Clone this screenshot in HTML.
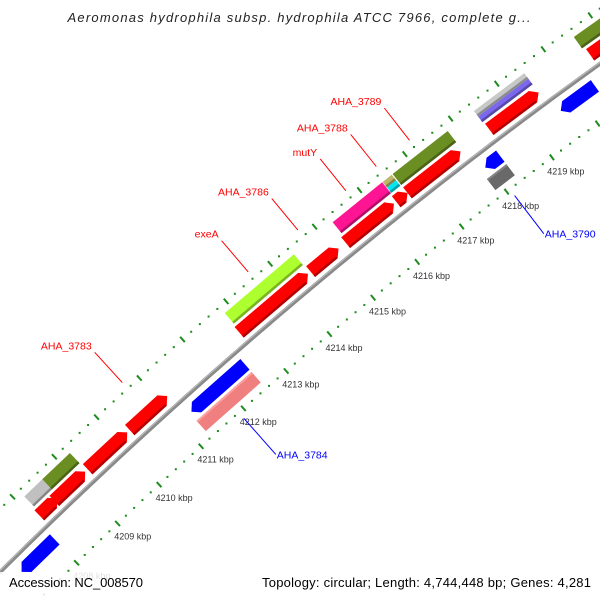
<!DOCTYPE html>
<html><head><meta charset="utf-8">
<style>
html,body{margin:0;padding:0;background:#fff;width:600px;height:600px;overflow:hidden}
svg{display:block;font-family:"Liberation Sans",sans-serif}
</style></head>
<body>
<svg id="map" width="600" height="600" viewBox="0 0 600 600" xmlns="http://www.w3.org/2000/svg" overflow="hidden">
<rect x="0" y="0" width="600" height="600" fill="#fff"/>
<g id="ticks"></g>
<g id="backbone"></g>
<g id="features"></g>
<g id="labels"></g>
<text x="299" y="22" text-anchor="middle" font-size="13" font-style="italic" fill="#222" textLength="463">Aeromonas hydrophila subsp. hydrophila ATCC 7966, complete g...</text>
<rect x="0" y="572" width="600" height="28" fill="#fff" opacity="0.85"/>
<text x="9" y="587" font-size="13" fill="#000" textLength="134">Accession: NC_008570</text>
<text x="591" y="587" font-size="13" fill="#000" text-anchor="end" textLength="329">Topology: circular; Length: 4,744,448 bp; Genes: 4,281</text>
</svg>
<script>
// ---- data (kbp) ----
const featStart = [4207.20, 4208.11, 4208.47, 4209.27, 4210.27, 4208.15, 4208.58, 4212.85, 4212.82, 4214.45, 4215.29, 4215.24, 4216.37, 4216.40, 4216.40, 4216.62, 4216.62, 4218.42, 4218.40, 4218.40, 4220.55, 4220.60, 4219.61, 4217.96, 4217.86, 4211.28, 4211.24];
const featEnd   = [4208.01, 4208.54, 4209.21, 4210.21, 4211.15, 4208.58, 4209.24, 4214.42, 4214.39, 4215.08, 4216.39, 4216.32, 4216.62, 4216.60, 4216.60, 4217.83, 4217.79, 4219.49, 4219.49, 4219.49, 4221.60, 4221.60, 4220.35, 4218.29, 4218.29, 4212.53, 4212.53];
const featColor = ["#0000ff","#ff0000","#ff0000","#ff0000","#ff0000","#c0c0c0","#6b8e23","#adff2f","#ff0000","#ff0000","#ff1493","#ff0000","#ff0000","#bdb76b","#00e5ee","#6b8e23","#ff0000","#ff0000","#c8c8c8","#7b68ee","#6b8e23","#ff0000","#0000ff","#0000ff","#696969","#0000ff","#f08080"];
const featRing  = ["r1","f1","f1","f1","f1","f2","f2","f2","f1","f1","f2","f1","f1","f2o","f2i","f2","f1","f1","f2o","f2i","f2","f1","r1","r1","r2","r1","r2"];
const tickKbp   = [4208, 4209, 4210, 4211, 4212, 4213, 4214, 4215, 4216, 4217, 4218, 4219, 4220];
const tickText  = ["4208 kbp","4209 kbp","4210 kbp","4211 kbp","4212 kbp","4213 kbp","4214 kbp","4215 kbp","4216 kbp","4217 kbp","4218 kbp","4219 kbp","4220 kbp"];
const labelText = ["AHA_3783","exeA","AHA_3786","mutY","AHA_3788","AHA_3789","AHA_3784","AHA_3790"];
const labelKbp  = [4210.73, 4213.62, 4214.74, 4215.81, 4216.48, 4217.21, 4211.89, 4218.07];
const labelStrand = ["f","f","f","f","f","f","r","r"];

// ---- geometry ----
const CX = 3486, CY = 4078;
const R_BACK = 4944, R_TICK_IN = 4897, R_TICK_OUT = 4989;
const RING = {f1:[4950,4964], f2:[4967,4981], f2o:[4974,4981], f2i:[4967,4974], r1:[4922,4936], r2:[4905,4919]};
const NS = "http://www.w3.org/2000/svg";
function ang(k){ return (-128.14 + (k - 4217) * 0.665) * Math.PI / 180; }
function P(r,k){ const a = ang(k); return [CX + r*Math.cos(a), CY + r*Math.sin(a)]; }
function pts(list){ return list.map(p => p[0].toFixed(2)+","+p[1].toFixed(2)).join(" "); }
function mk(tag, attrs, parent){ const e = document.createElementNS(NS, tag); for (const k in attrs) e.setAttribute(k, attrs[k]); parent.appendChild(e); return e; }
function shade(hex, f){
  const n = parseInt(hex.slice(1),16); let r=(n>>16)&255,g=(n>>8)&255,b=n&255;
  r=Math.round(r*f); g=Math.round(g*f); b=Math.round(b*f);
  return "rgb("+Math.min(255,r)+","+Math.min(255,g)+","+Math.min(255,b)+")";
}

// backbone
const bb = document.getElementById("backbone");
const arc = [];
for (let k = 4206.5; k <= 4221.6; k += 0.1) arc.push(P(R_BACK, k));
const bbLine = mk("polyline", {points: pts(arc), fill: "none", stroke: "#8a8a8a", "stroke-width": 4}, bb);


const bbHi = mk("polyline", {points: pts(arc), fill: "none", stroke: "#bdbdbd", "stroke-width": 1, transform: "translate(-0.8,-0.8)"}, bb);



// tick rings
const tg = document.getElementById("ticks");
for (let i = 0; i <= 80; i++) {
  const k = 4206 + i * 0.2;
  const major = (i % 5 === 0);
  [R_TICK_IN, R_TICK_OUT].forEach(function(r, j){
    const c0 = P(r, k);
    if (c0[0] < -10 || c0[0] > 610 || c0[1] < -10 || c0[1] > 610) return;
    let el;
    if (major) {
      const a = P(r - 3.5, k), b = P(r + 3.5, k);
      el = mk("line", {x1:a[0], y1:a[1], x2:b[0], y2:b[1], stroke:"#1e8c1e", "stroke-width":2}, tg);
    } else {
      el = mk("rect", {x:c0[0]-1, y:c0[1]-1, width:2, height:2, fill:"#1e8c1e"}, tg);
    }
    
    
  });
}
for (let i = 0; i < tickKbp.length; i++) {
  const p = P(R_TICK_IN - 14, tickKbp[i]);
  if (p[0] > 590 || p[1] > 600) continue;
  const t = mk("text", {x:(p[0]-13).toFixed(1), y:(p[1]+6).toFixed(1), "font-size":9, fill:"#333"}, tg);
  t.textContent = tickText[i];
  
  
}

// features
const fg = document.getElementById("features");
const HEAD = 0.12;
for (let i = 0; i < featStart.length; i++) {
  const ring = featRing[i], r = RING[ring], k1 = featStart[i], k2 = featEnd[i], col = featColor[i];
  const r1 = r[0], r2 = r[1], rm = (r1 + r2) / 2;
  const isArrow = (ring === "f1" || ring === "r1");
  const h = Math.min(HEAD, (k2 - k1) * 0.5);
  let poly;
  if (isArrow && ring === "f1") {
    poly = [P(r1,k1), P(r1,k2-h), P(rm,k2), P(r2,k2-h), P(r2,k1)];
  } else if (isArrow) {
    poly = [P(rm,k1), P(r1,k1+h), P(r1,k2), P(r2,k2), P(r2,k1+h)];
  } else {
    poly = [P(r1,k1), P(r1,k2), P(r2,k2), P(r2,k1)];
  }
  const g = mk("g", {}, fg);
  
  
  mk("polygon", {points: pts(poly), fill: col}, g);
  const kEnd = (ring === "f1") ? k2 - h : k2;
  const kBeg = (ring === "r1") ? k1 + h : k1;
  if (ring[0] === 'f') {
    mk("polygon", {points: pts([P(r1,kBeg), P(r1,kEnd), P(r1+2.5,kEnd), P(r1+2.5,kBeg)]), fill: shade(col, 0.7)}, g);
  } else {
    mk("polygon", {points: pts([P(r2-2,kBeg), P(r2-2,kEnd), P(r2,kEnd), P(r2,kBeg)]), fill: shade(col, 1.25)}, g);
  }
}

// labels
const lg = document.getElementById("labels");
for (let i = 0; i < labelText.length; i++) {
  const fwd = labelStrand[i] === "f";
  const col = fwd ? "#ff0000" : "#0000ff";
  const a = fwd ? P(4997, labelKbp[i]) : P(4889, labelKbp[i]);
  const b = fwd ? P(5038, labelKbp[i]) : P(4841, labelKbp[i]);
  const ln = mk("line", {x1:a[0].toFixed(1), y1:a[1].toFixed(1), x2:b[0].toFixed(1), y2:b[1].toFixed(1), stroke:col, "stroke-width":1}, lg);
  
  
  const t = mk("text", {x: fwd ? (b[0]-3).toFixed(1) : (b[0]+1).toFixed(1), y: fwd ? (b[1]-3).toFixed(1) : (b[1]+4).toFixed(1), "font-size":10.5, fill:col, "text-anchor": fwd ? "end" : "start"}, lg);
  t.textContent = labelText[i];
  
  
}
</script>
</body></html>
